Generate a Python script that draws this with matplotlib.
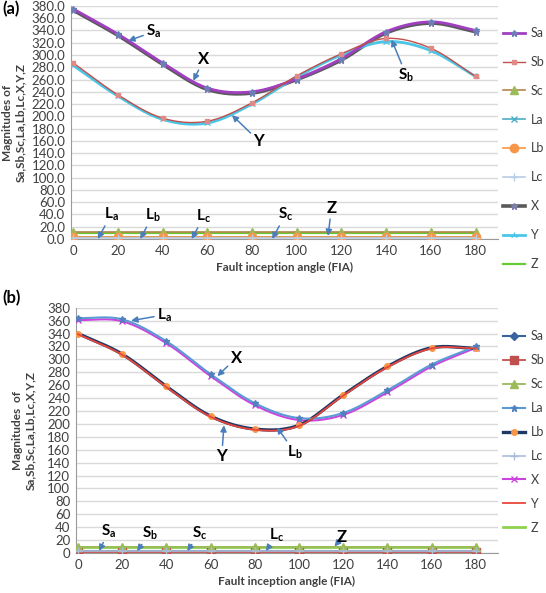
import numpy as np
import matplotlib
matplotlib.use("Agg")
import matplotlib.pyplot as plt

plt.rcParams["font.family"] = ["Lato", "DejaVu Sans"]
plt.rcParams["mathtext.fontset"] = "custom"
plt.rcParams["mathtext.bf"] = "Lato:bold"
plt.rcParams["mathtext.rm"] = "Lato"

fia = [0, 20, 40, 60, 80, 100, 120, 140, 160, 180]

# panel (a)
a_Sa = [375, 334, 287, 246, 240, 261, 294, 338, 354, 340]
a_Sb = [287, 235, 197, 192, 222, 266, 302, 327, 311, 265]
a_Sc = [11, 11, 11, 11, 11, 11, 11, 11, 11, 11]
a_La = [3, 3, 3, 3, 3, 3, 3, 3, 3, 3]
a_Lb = [4, 4, 4, 4, 4, 4, 4, 4, 4, 4]
a_Lc = [2, 2, 2, 2, 2, 2, 2, 2, 2, 2]
a_X = [373, 332, 285, 244, 238, 260, 292, 336, 352, 338]
a_Y = [283, 233, 195, 189, 220, 264, 300, 322, 307, 265]
a_Z = [10, 10, 10, 10, 10, 10, 10, 10, 10, 10]

# panel (b)
b_Sa = [3, 3, 3, 3, 3, 3, 3, 3, 3, 3]
b_Sb = [1, 1, 1, 1, 1, 1, 1, 1, 1, 1]
b_Sc = [10, 10, 10, 10, 10, 10, 10, 10, 10, 10]
b_La = [364, 362, 328, 277, 232, 209, 217, 252, 292, 320]
b_Lb = [340, 308, 258, 212, 192, 198, 245, 289, 318, 317]
b_Lc = [3, 3, 3, 3, 3, 3, 3, 3, 3, 3]
b_X = [361, 359, 325, 274, 229, 206, 214, 249, 289, 318]
b_Y = [339, 307, 257, 211, 191, 197, 244, 288, 317, 317]
b_Z = [10, 10, 10, 10, 10, 10, 10, 10, 10, 10]

NSEG = 16


def smooth(x, y, n=NSEG):
    # catmull-rom through the points, like excel's smoothed line
    x = np.asarray(x, float)
    y = np.asarray(y, float)
    px = np.concatenate([[2 * x[0] - x[1]], x, [2 * x[-1] - x[-2]]])
    py = np.concatenate([[2 * y[0] - y[1]], y, [2 * y[-1] - y[-2]]])
    t = np.linspace(0, 1, n, endpoint=False)
    xs, ys = [], []
    for i in range(1, len(px) - 2):
        for p, out in ((px, xs), (py, ys)):
            p0, p1, p2, p3 = p[i - 1], p[i], p[i + 1], p[i + 2]
            out.append(0.5 * (2 * p1 + (-p0 + p2) * t + (2 * p0 - 5 * p1 + 4 * p2 - p3) * t**2
                              + (-p0 + 3 * p1 - 3 * p2 + p3) * t**3))
    xs.append([x[-1]])
    ys.append([y[-1]])
    return np.concatenate(xs), np.concatenate(ys)


def series(ax, y, label, color, lw=1.5, marker=None, ms=5, mfc=None, mec=None, z=2):
    sx, sy = smooth(fia, y)
    ax.plot(sx, sy, color=color, lw=lw, marker=marker, ms=ms, markevery=NSEG,
            mfc=mfc or color, mec=mec or mfc or color, label=label, zorder=z)


def style(ax, fmt):
    ax.set_xlim(-1, 190)
    ax.set_ylim(0, 380)
    ax.set_yticks(np.arange(0, 381, 20))
    ax.set_yticklabels([fmt % v for v in np.arange(0, 381, 20)])
    ax.set_xticks(fia)
    ax.grid(axis="y", color="#d9d9d9", lw=1)
    ax.set_axisbelow(True)
    for s in ("top", "right"):
        ax.spines[s].set_visible(False)
    for s in ("left", "bottom"):
        ax.spines[s].set_color("#9a9a9a")
    ax.tick_params(length=0, labelsize=9.5, colors="#404040", pad=4)
    ax.set_xlabel("Fault inception angle (FIA)", fontsize=8.5, fontweight="bold", color="#404040")


arrow = dict(arrowstyle="-|>", color="#4a7ebb", lw=1.1, mutation_scale=9, shrinkA=0, shrinkB=0)


def tag(ax, txt, xy, xytext, size=11):
    ax.annotate(txt, xy=xy, xytext=xytext, fontsize=size, fontweight="bold",
                ha="center", va="center", arrowprops=arrow, zorder=6)


fig = plt.figure(figsize=(5.46, 5.93), dpi=100)

# ---------- (a)
ax1 = fig.add_axes([0.130, 0.597, 0.782, 0.393])
series(ax1, a_X, "X", "#595959", lw=2.6, marker="*", ms=4.5, mfc="#7f7fb0", z=3)
series(ax1, a_Sa, "Sa", "#a040c0", lw=2.0, marker="*", ms=4.5, mfc="#6a7fb8", z=4)
series(ax1, a_Y, "Y", "#4bc6e6", lw=2.0, marker="2", ms=5, z=3)
series(ax1, a_Sb, "Sb", "#c0504d", lw=1.0, marker="s", ms=3.5, mfc="#e08a88", z=4)
series(ax1, a_Sc, "Sc", "#b5844c", lw=1.2, marker="^", ms=6, mfc="#9bbb59", z=3)
series(ax1, a_La, "La", "#4bacc6", lw=1.2, marker="x", ms=5, z=3)
series(ax1, a_Lb, "Lb", "#f79646", lw=1.2, marker="o", ms=6, z=3)
series(ax1, a_Lc, "Lc", "#b9cde5", lw=1.2, marker="+", ms=6, z=3)
series(ax1, a_Z, "Z", "#66cc33", lw=1.6, z=2)
style(ax1, "%.1f")
ax1.set_ylabel("Magnitudes of\nSa,Sb,Sc,La,Lb,Lc,X,Y,Z", fontsize=8.5, fontweight="bold",
               color="#404040", labelpad=4)
h, l = ax1.get_legend_handles_labels()
order = ["Sa", "Sb", "Sc", "La", "Lb", "Lc", "X", "Y", "Z"]
hh = [h[l.index(k)] for k in order]
fig.legend(hh, order, loc="center left", bbox_to_anchor=(503 / 546, 1 - 148.5 / 593),
           frameon=False, fontsize=9, labelspacing=1.35, handlelength=1.8, handletextpad=0.4,
           borderpad=0, borderaxespad=0, labelcolor="#404040")

tag(ax1, r"$\mathbf{S_a}$", (24.6, 323), (36, 338))
tag(ax1, "X", (53.7, 258), (58.5, 293), size=12)
tag(ax1, "Y", (71, 202), (83, 160), size=12)
tag(ax1, r"$\mathbf{S_b}$", (142.4, 325), (149, 267))
tag(ax1, r"$\mathbf{L_a}$", (11, 0), (17, 40))
tag(ax1, r"$\mathbf{L_b}$", (30, 0), (35.5, 38))
tag(ax1, r"$\mathbf{L_c}$", (53, 0), (58.5, 37))
tag(ax1, r"$\mathbf{S_c}$", (89, 0), (95, 40))
tag(ax1, "Z", (114, 5), (115.5, 50), size=12)

# ---------- (b)
ax2 = fig.add_axes([0.139, 0.0675, 0.773, 0.4135])
series(ax2, b_X, "X", "#cc44dd", lw=1.5, marker="x", ms=4, z=3)
series(ax2, b_La, "La", "#5b9bd5", lw=1.5, marker="*", ms=5, mfc="#4f81bd", z=4)
series(ax2, b_Lb, "Lb", "#1f3864", lw=2.4, marker="o", ms=4, mfc="#f79646", mec="#f79646", z=3)
series(ax2, b_Y, "Y", "#e8463c", lw=1.3, z=4)
series(ax2, b_Sa, "Sa", "#3a64a0", lw=1.5, marker="D", ms=4, z=3)
series(ax2, b_Sb, "Sb", "#c0504d", lw=1.3, marker="s", ms=5.5, z=3)
series(ax2, b_Sc, "Sc", "#9bbb59", lw=1.3, marker="^", ms=6, z=3)
series(ax2, b_Lc, "Lc", "#a9bcd8", lw=1.2, marker="+", ms=6, z=3)
series(ax2, b_Z, "Z", "#8fd14f", lw=2.0, z=2)
style(ax2, "%d")
ax2.set_ylabel("Magnitudes  of\nSa,Sb,Sc,La,Lb,Lc,X,Y,Z", fontsize=8.5, fontweight="bold",
               color="#404040", labelpad=8)
h, l = ax2.get_legend_handles_labels()
hh = [h[l.index(k)] for k in order]
fig.legend(hh, order, loc="center left", bbox_to_anchor=(503 / 546, 1 - 432 / 593),
           frameon=False, fontsize=9, labelspacing=0.95, handlelength=1.8, handletextpad=0.4,
           borderpad=0, borderaxespad=0, labelcolor="#404040")

tag(ax2, r"$\mathbf{L_a}$", (24, 360), (39, 369))
tag(ax2, "X", (63, 274), (71.5, 302), size=12)
tag(ax2, "Y", (66, 198), (65, 150), size=12)
tag(ax2, r"$\mathbf{L_b}$", (90, 195), (98, 156))
tag(ax2, r"$\mathbf{S_a}$", (9.5, 3), (14, 34))
tag(ax2, r"$\mathbf{S_b}$", (26.7, 3), (32.6, 31))
tag(ax2, r"$\mathbf{S_c}$", (49.4, 3), (55, 31))
tag(ax2, r"$\mathbf{L_c}$", (85, 3), (90, 28))
tag(ax2, "Z", (116, 10), (119.5, 24), size=12)

fig.text(0.004, 0.985, "(a)", fontsize=12, fontweight="bold", va="center")
fig.text(0.004, 0.497, "(b)", fontsize=12, fontweight="bold", va="center")

fig.savefig("out.png", dpi=100)
